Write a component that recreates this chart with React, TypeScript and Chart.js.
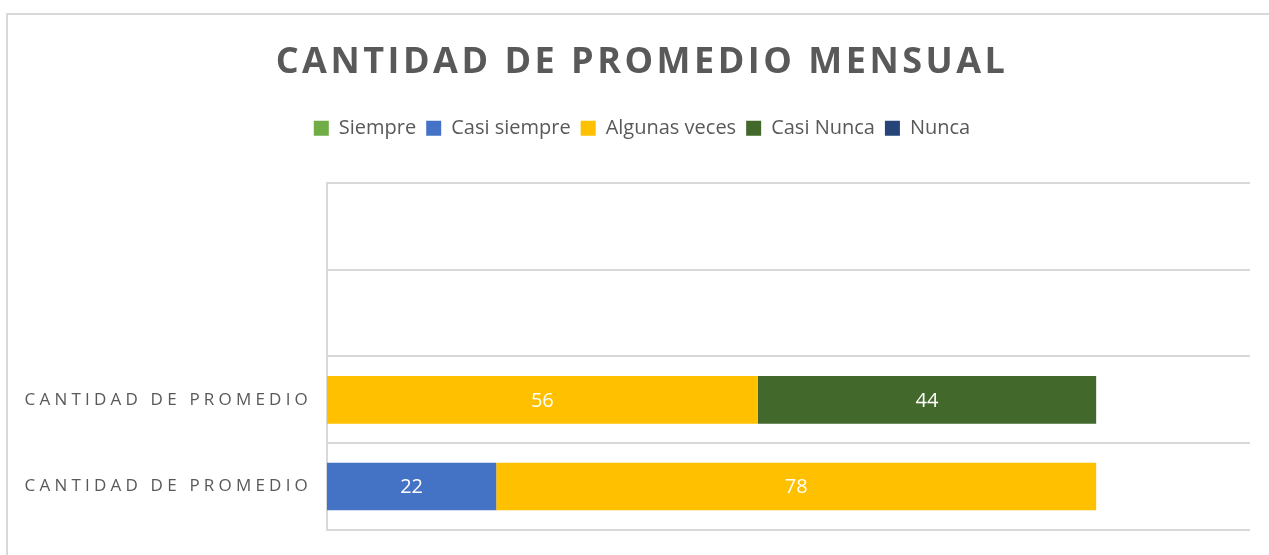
import React, { useEffect, useRef } from "react";
import { Chart, registerables } from "chart.js";

Chart.register(...registerables);

const categories = ["", "", "CANTIDAD DE PROMEDIO", "CANTIDAD DE PROMEDIO"];
const seriesNames = ["Siempre", "Casi siempre", "Algunas veces", "Casi Nunca", "Nunca"];
const siempre: (number | null)[] = [null, null, null, null];
const casiSiempre: (number | null)[] = [null, null, null, 22];
const algunasVeces: (number | null)[] = [null, null, 56, 78];
const casiNunca: (number | null)[] = [null, null, 44, null];
const nunca: (number | null)[] = [null, null, null, null];
const seriesColors = ["#70AD47", "#4472C4", "#FFC000", "#43682B", "#264478"];
const titleText = "CANTIDAD DE PROMEDIO MENSUAL";
const xMax = 120;

const TEXT = "#595959";
const GRID = "#D9D9D9";

const spacingPlugin = {
  id: "spacing",
  beforeDraw(chart: any) {
    const tb = chart.titleBlock;
    if (tb && !tb.__patched) {
      const orig = tb.draw;
      tb.draw = function (...args: any[]) {
        const c = this.ctx;
        c.save();
        c.letterSpacing = "3.5px";
        orig.apply(this, args);
        c.restore();
      };
      tb.__patched = true;
    }
    const ys = chart.scales.y;
    if (ys && !ys.__patched) {
      const origL = ys.drawLabels;
      ys._computeLabelArea = () => undefined;
      ys.drawLabels = function (...args: any[]) {
        const c = this.ctx;
        c.save();
        c.letterSpacing = "4.2px";
        origL.apply(this, args);
        c.restore();
      };
      ys.__patched = true;
    }
  },
};

const valueLabels = {
  id: "valueLabels",
  afterDatasetsDraw(chart: any) {
    const ctx = chart.ctx;
    ctx.save();
    ctx.fillStyle = "#FFFFFF";
    ctx.font = "20px 'Open Sans'";
    ctx.textAlign = "center";
    ctx.textBaseline = "middle";
    chart.data.datasets.forEach((ds: any, i: number) => {
      const meta = chart.getDatasetMeta(i);
      meta.data.forEach((el: any, j: number) => {
        const v = ds.data[j];
        if (v === null || v === undefined || v === 0) return;
        const x = (el.x + el.base) / 2;
        ctx.fillText(String(v), x, el.y + 1);
      });
    });
    ctx.restore();
  },
};

export default function App() {
  const ref = useRef<HTMLCanvasElement>(null);
  useEffect(() => {
    if (!ref.current) return;
    const values = [siempre, casiSiempre, algunasVeces, casiNunca, nunca];
    const chart = new Chart(ref.current, {
      type: "bar",
      data: {
        labels: categories,
        datasets: seriesNames.map((name, i) => ({
          label: name,
          data: values[i],
          backgroundColor: seriesColors[i],
          borderWidth: 0,
          categoryPercentage: 1,
          barPercentage: 0.55,
        })),
      },
      options: {
        indexAxis: "y",
        animation: false,
        responsive: false,
        events: [],
        layout: { padding: { left: 34, right: 19, bottom: 24, top: 0 } },
        plugins: {
          tooltip: { enabled: false },
          title: {
            display: true,
            text: titleText,
            color: TEXT,
            font: { family: "'Open Sans'", size: 36, weight: "bold" },
            padding: { top: 41, bottom: 24 },
          },
          legend: {
            position: "top",
            labels: {
              color: TEXT,
              font: { family: "'Open Sans'", size: 20 },
              boxWidth: 15,
              boxHeight: 15,
              padding: 10,
            },
          },
        },
        scales: {
          x: {
            stacked: true,
            position: "top",
            min: 0,
            max: xMax,
            grid: { display: false },
            border: { display: false },
            ticks: { display: false },
            afterFit(s: any) {
              s.height = 35;
            },
          },
          y: {
            stacked: true,
            grid: { color: GRID, lineWidth: 2, offset: true, drawTicks: false },
            border: { color: GRID, width: 2 },
            ticks: {
              color: TEXT,
              font: { family: "'Open Sans'", size: 17 },
              padding: 15,
            },
            afterFit(s: any) {
              s.width = 327 - 34;
            },
          },
        },
      },
      plugins: [spacingPlugin, valueLabels],
    } as any);
    return () => chart.destroy();
  }, []);
  return (
    <div style={{ position: "fixed", left: 0, top: 0, width: 1269, height: 555, overflow: "hidden", background: "#fff" }}>
      <div
        style={{
          position: "absolute",
          left: 6,
          top: 13,
          width: 1400,
          height: 700,
          borderTop: "2px solid #D9D9D9",
          borderLeft: "2px solid #D9D9D9",
          boxSizing: "border-box",
        }}
      />
      <canvas ref={ref} width={1269} height={555} style={{ position: "absolute", left: 0, top: 0, display: "block" }} />
    </div>
  );
}
